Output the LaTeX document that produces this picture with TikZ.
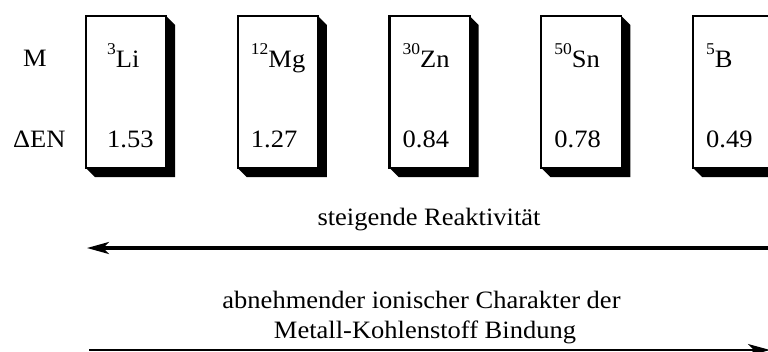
\documentclass[tikz,border=0pt]{standalone}
\usepackage{fontspec}
\setmainfont{Liberation Serif}[FakeStretch=1.06]
\usetikzlibrary{arrows.meta}
% mass number set small and raised before the element symbol
\newcommand\isotope[2]{\raisebox{13pt}{\fontsize{16.5}{16}\selectfont #1}#2}
\begin{document}
\begin{tikzpicture}[x=1pt,y=-1pt,
  elembox/.style={draw, line width=1.2pt, fill=white, minimum width=80pt,
    minimum height=152pt, inner sep=0pt, outer sep=0pt},
  lbl/.style={inner sep=0pt, anchor=base west, font=\fontsize{25}{30}\selectfont},
  caption/.style={inner sep=0pt, anchor=base, font=\fontsize{25}{30}\selectfont},
  thickarrow/.style={line width=3.3pt, -{Stealth[length=22pt,width=12pt,inset=6pt]}},
  thinarrow/.style={line width=1.3pt, -{Stealth[length=22pt,width=12pt,inset=6pt]}}]
\useasboundingbox (0,0) rectangle (768,351);

% row headings
\node[lbl] (hM) at (23,66) {M};
\node[lbl] (hEN) at (13,147) {ΔEN};

% element boxes with a black extruded shadow
\foreach \i/\m/\sym/\val/\dx in {0/3/Li/1.53/21, 1/12/Mg/1.27/13, 2/30/Zn/0.84/13, 3/50/Sn/0.78/13, 4/5/B/0.49/13}{
  \pgfmathsetmacro\cx{126+151.75*\i}
  \pgfmathsetmacro\tx{86+151.75*\i+\dx}
  \node[elembox] (box\i) at (\cx,92) {};
  \fill (box\i.north east) -- ++(9,9) -- ([shift={(9,9)}]box\i.south east)
        -- ([shift={(9,9)}]box\i.south west) -- (box\i.south west)
        -- (box\i.south east) -- cycle;
  \draw[line width=2.2pt, line cap=rect] (box\i.south west) -- (box\i.north west) -- (box\i.north east);
  \node[lbl] (name\i) at (\tx,67) {\isotope{\m}{\sym}};
  \node[lbl] (val\i) at (\tx,147) {\val};
}

% reactivity arrow
\node[caption] (react) at (429,225) {steigende Reaktivität};
\coordinate (reactR) at (780,248);
\coordinate (reactL) at (87,248);
\draw[thickarrow] (reactR) -- (reactL);

% ionic character arrow
\node[caption] (ion1) at (421.5,308) {abnehmender ionischer Charakter der};
\node[caption] (ion2) at (425,338) {Metall-Kohlenstoff Bindung};
\coordinate (ionL) at (89,350);
\coordinate (ionR) at (770,350);
\draw[thinarrow] (ionL) -- (ionR);
\end{tikzpicture}
\end{document}
